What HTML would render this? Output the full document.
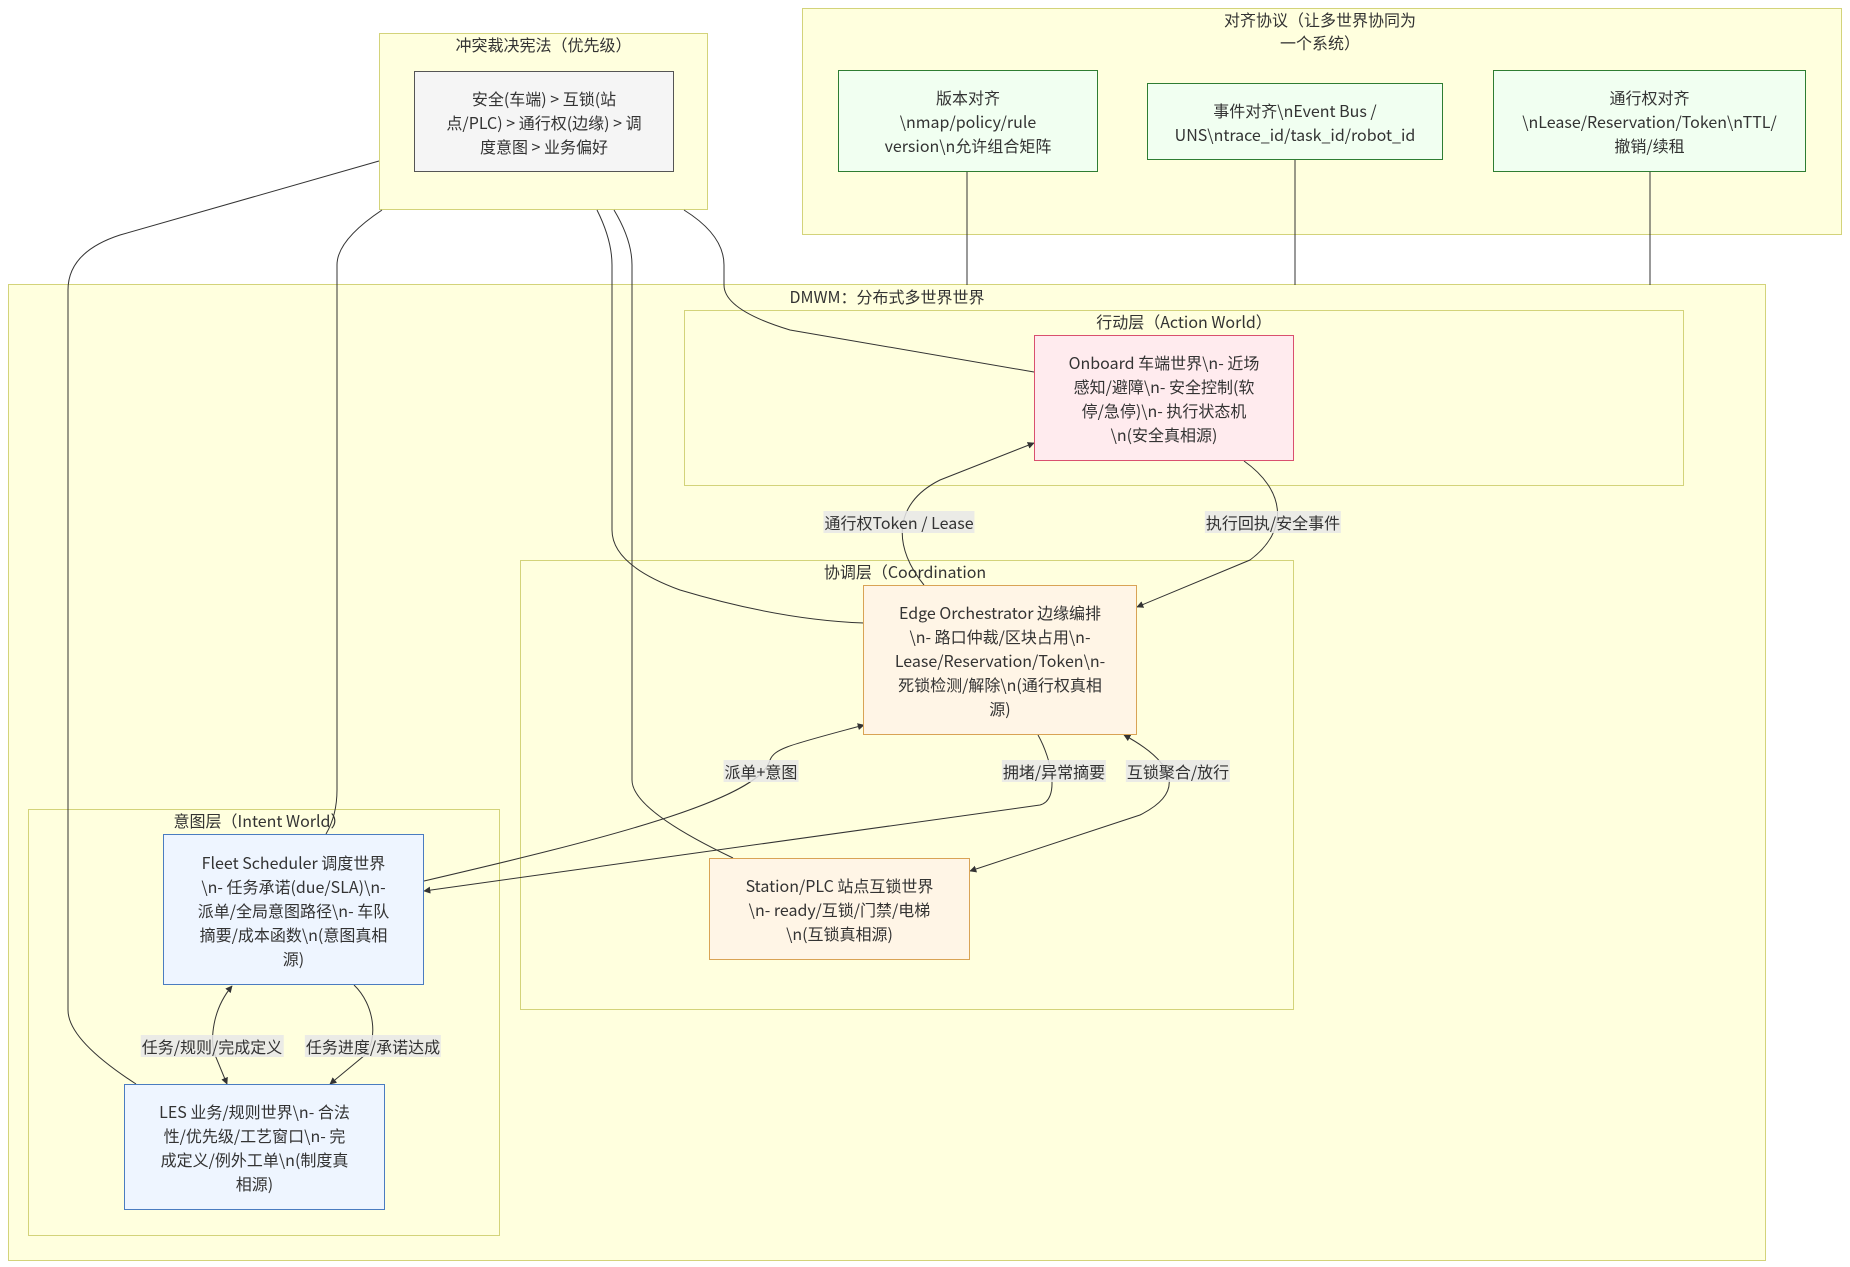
<!DOCTYPE html>
<html><head><meta charset="utf-8">
<style>
html,body{margin:0;padding:0;background:#fff;}
body{width:1850px;height:1267px;position:relative;overflow:hidden;font-family:"Noto Sans CJK SC","Liberation Sans",sans-serif;color:#333;font-size:16px;}
.cl{position:absolute;background:#ffffde;border:1.5px solid #d3d37a;box-sizing:border-box;}
.ct{position:absolute;text-align:center;font-size:16px;line-height:23px;white-space:nowrap;}
.n{position:absolute;box-sizing:border-box;display:flex;align-items:center;justify-content:center;text-align:center;line-height:24px;font-size:16px;}
.g{background:#f5f5f5;border:1.5px solid #555;}
.gr{background:#f1fff1;border:1.5px solid #2e7d32;}
.pk{background:#ffebee;border:1.5px solid #d9506e;}
.or{background:#fff5e6;border:1.5px solid #d9a355;}
.bl{background:#eef5ff;border:1.5px solid #4a7cc0;}
.lb{position:absolute;background:rgba(232,232,232,0.85);font-size:16px;line-height:22px;padding:0 1px;white-space:nowrap;transform:translate(-50%,-50%);}
svg{position:absolute;left:0;top:0;}
</style></head><body>

<div class="cl" style="left:802px;top:8px;width:1040px;height:227px;"></div>
<div class="ct" style="left:1170px;top:8px;width:300px;">对齐协议（让多世界协同为<br>一个系统）</div>

<div class="cl" style="left:379px;top:33px;width:329px;height:177px;"></div>
<div class="ct" style="left:379px;top:33px;width:329px;">冲突裁决宪法（优先级）</div>

<div class="cl" style="left:8px;top:284px;width:1758px;height:977px;"></div>
<div class="ct" style="left:687px;top:285px;width:400px;">DMWM：分布式多世界世界</div>

<div class="cl" style="left:684px;top:310px;width:1000px;height:176px;"></div>
<div class="ct" style="left:984px;top:310px;width:400px;">行动层（Action World）</div>

<div class="cl" style="left:520px;top:560px;width:774px;height:450px;"></div>
<div class="ct" style="left:705px;top:560px;width:400px;">协调层（Coordination</div>

<div class="cl" style="left:28px;top:809px;width:472px;height:427px;"></div>
<div class="ct" style="left:60px;top:809px;width:400px;">意图层（Intent World）</div>

<svg width="1850" height="1267" viewBox="0 0 1850 1267">
<defs><marker id="a" viewBox="0 0 10 10" refX="9" refY="5" markerWidth="7" markerHeight="7" orient="auto-start-reverse"><path d="M0,0L10,5L0,10z" fill="#333"/></marker></defs>
<g fill="none" stroke="#333" stroke-width="1">
<path d="M379,161 L120,235 Q68,252 68,290 L68,1010 Q68,1040 136,1084"/>
<path d="M382,210 Q337,240 337,265 L337,790 Q337,815 326,834"/>
<path d="M597,210 Q612,240 612,265 L612,530 Q612,565 680,590 Q780,620 864,623"/>
<path d="M614,210 Q632,240 632,265 L632,780 Q632,810 733,858"/>
<path d="M684,210 Q724,235 724,265 L724,285 Q724,310 790,330 L1034,372"/>
<path d="M967,172 L967,285"/><path d="M1295,160 L1295,285"/><path d="M1650,172 L1650,285"/>
<path d="M924,585 C895,550 890,505 940,480 L1034,443" marker-end="url(#a)"/>
<path d="M1244,461 C1285,490 1290,530 1250,560 L1137,607" marker-end="url(#a)"/>
<path d="M424,881 C600,840 760,800 770,760 C775,748 790,745 864,725" marker-end="url(#a)"/>
<path d="M1038,735 C1052,760 1060,800 1040,805 L424,891" marker-end="url(#a)"/>
<path d="M1124,735 C1170,760 1190,790 1140,815 L970,871" marker-start="url(#a)" marker-end="url(#a)"/>
<path d="M232,986 C212,1010 210,1040 215,1055 L227,1084" marker-start="url(#a)" marker-end="url(#a)"/>
<path d="M354,985 C375,1005 378,1040 365,1055 L330,1084" marker-end="url(#a)"/>
</g></svg>

<div class="n g" style="left:414px;top:71px;width:260px;height:101px;">安全(车端) &gt; 互锁(站<br>点/PLC) &gt; 通行权(边缘) &gt; 调<br>度意图 &gt; 业务偏好</div>
<div class="n gr" style="left:838px;top:70px;width:260px;height:102px;">版本对齐<br>\nmap/policy/rule<br>version\n允许组合矩阵</div>
<div class="n gr" style="left:1147px;top:83px;width:296px;height:77px;">事件对齐\nEvent Bus /<br>UNS\ntrace_id/task_id/robot_id</div>
<div class="n gr" style="left:1493px;top:70px;width:313px;height:102px;">通行权对齐<br>\nLease/Reservation/Token\nTTL/<br>撤销/续租</div>
<div class="n pk" style="left:1034px;top:335px;width:260px;height:126px;">Onboard 车端世界\n- 近场<br>感知/避障\n- 安全控制(软<br>停/急停)\n- 执行状态机<br>\n(安全真相源)</div>
<div class="n or" style="left:863px;top:585px;width:274px;height:150px;">Edge Orchestrator 边缘编排<br>\n- 路口仲裁/区块占用\n-<br>Lease/Reservation/Token\n-<br>死锁检测/解除\n(通行权真相<br>源)</div>
<div class="n or" style="left:709px;top:858px;width:261px;height:102px;">Station/PLC 站点互锁世界<br>\n- ready/互锁/门禁/电梯<br>\n(互锁真相源)</div>
<div class="n bl" style="left:163px;top:834px;width:261px;height:151px;">Fleet Scheduler 调度世界<br>\n- 任务承诺(due/SLA)\n-<br>派单/全局意图路径\n- 车队<br>摘要/成本函数\n(意图真相<br>源)</div>
<div class="n bl" style="left:124px;top:1084px;width:261px;height:126px;">LES 业务/规则世界\n- 合法<br>性/优先级/工艺窗口\n- 完<br>成定义/例外工单\n(制度真<br>相源)</div>

<div class="lb" style="left:899px;top:522px;">通行权Token / Lease</div>
<div class="lb" style="left:1273px;top:522px;">执行回执/安全事件</div>
<div class="lb" style="left:761px;top:771px;">派单+意图</div>
<div class="lb" style="left:1054px;top:771px;">拥堵/异常摘要</div>
<div class="lb" style="left:1178px;top:771px;">互锁聚合/放行</div>
<div class="lb" style="left:212px;top:1046px;">任务/规则/完成定义</div>
<div class="lb" style="left:373px;top:1046px;">任务进度/承诺达成</div>
</body></html>
